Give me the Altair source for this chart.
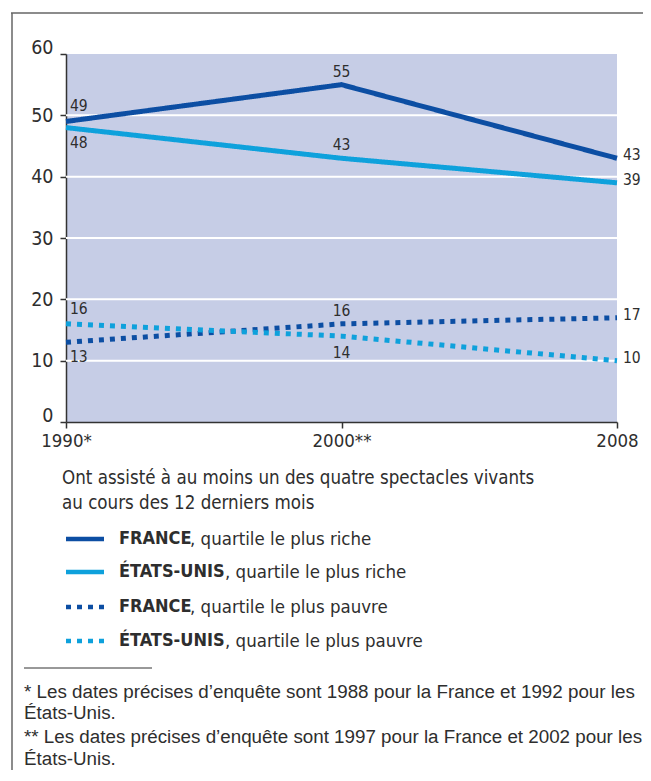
import altair as alt
import pandas as pd

# ---------------- data ----------------
years = ["1990*", "2000**", "2008"]
series = ["FRANCE riche", "ÉTATS-UNIS riche", "FRANCE pauvre", "ÉTATS-UNIS pauvre"]
france_riche = [49, 55, 43]
us_riche = [48, 43, 39]
france_pauvre = [13, 16, 17]
us_pauvre = [16, 14, 10]
y_ticks = [0, 10, 20, 30, 40, 50, 60]
grid_values = [10, 20, 30, 40, 50]

legend_title = ["Ont assisté à au moins un des quatre spectacles vivants",
                "au cours des 12 derniers mois"]
legend_bold = ["FRANCE", "ÉTATS-UNIS", "FRANCE", "ÉTATS-UNIS"]
legend_rest = [", quartile le plus riche", ", quartile le plus riche",
               ", quartile le plus pauvre", ", quartile le plus pauvre"]
footnotes = ["* Les dates précises d’enquête sont 1988 pour la France et 1992 pour les",
             "États-Unis.",
             "** Les dates précises d’enquête sont 1997 pour la France et 2002 pour les",
             "États-Unis."]

# ---------------- styles / layout ----------------
COND = "DejaVu Sans Condensed, Liberation Sans Narrow, sans-serif"
REG = "Liberation Sans, Arial, Helvetica, sans-serif"
TXT = "#2e2e2e"
colors = ["#0c4ea3", "#0ea1dc", "#0c4ea3", "#0ea1dc"]
dashes = [[1, 0], [1, 0], [5, 6], [5, 6]]
W, H = 551, 368

place = {
    "FRANCE riche": ["first_above", "mid_above", "last"],
    "ÉTATS-UNIS riche": ["first_below", "mid_above", "last"],
    "FRANCE pauvre": ["first_below", "mid_above", "last"],
    "ÉTATS-UNIS pauvre": ["first_above", "mid_below", "last"],
}
label_style = {
    "first_above": dict(align="left", dx=4, dy=-15),
    "first_below": dict(align="left", dx=4, dy=15),
    "mid_above": dict(align="center", dx=0, dy=-13),
    "mid_below": dict(align="center", dx=0, dy=17),
    "last": dict(align="left", dx=6, dy=-3),
}

rows = []
for s, vals in zip(series, [france_riche, us_riche, france_pauvre, us_pauvre]):
    for i, (yr, v) in enumerate(zip(years, vals)):
        rows.append({"year": yr, "value": v, "series": s, "label": str(v),
                     "pos": place[s][i]})
df = pd.DataFrame(rows)

color_scale = alt.Scale(domain=series, range=colors)
dash_scale = alt.Scale(domain=series, range=dashes)
x_scale = alt.Scale(type="point", domain=years, padding=0)
y_scale = alt.Scale(domain=[0, 60], nice=False)

grid = alt.Chart(pd.DataFrame({"g": grid_values})).mark_rule(
    color="white", strokeWidth=2).encode(y=alt.Y("g:Q", scale=y_scale))

lines = alt.Chart(df).mark_line(strokeWidth=5, strokeCap="butt").encode(
    x=alt.X("year:N", scale=x_scale, sort=years,
            axis=alt.Axis(title=None, labelAngle=0, labelFont=COND, labelFontSize=18.5,
                          labelColor=TXT, tickSize=6, tickColor="#333", tickWidth=1.5,
                          domainColor="#333", domainWidth=1.5, labelPadding=3, grid=False)),
    y=alt.Y("value:Q", scale=y_scale,
            axis=alt.Axis(title=None, values=y_ticks, labelFont=COND, labelFontSize=19.5,
                          labelColor=TXT, tickSize=6, tickColor="#333", tickWidth=1.5,
                          domainColor="#333", domainWidth=1.5, labelPadding=7, grid=False,
                          labelOffset={"condition": {"test": "datum.value === 0 || datum.value === 60",
                                                     "value": -7}, "value": 0})),
    color=alt.Color("series:N", scale=color_scale, legend=None),
    strokeDash=alt.StrokeDash("series:N", scale=dash_scale, legend=None),
)

label_layers = []
for pos, st in label_style.items():
    label_layers.append(
        alt.Chart(df).transform_filter(alt.datum.pos == pos).mark_text(
            font=COND, fontSize=15.5, color=TXT, baseline="middle", **st).encode(
            x=alt.X("year:N", scale=x_scale, sort=years),
            y=alt.Y("value:Q", scale=y_scale),
            text="label:N"))

# custom legend
extra = []
title_y = [424, 449]
for t, ty in zip(legend_title, title_y):
    extra.append(alt.Chart(pd.DataFrame({"t": [t]})).mark_text(
        font=COND, fontSize=18.6, color=TXT, align="left", baseline="middle").encode(
        x=alt.value(-4), y=alt.value(ty), text="t:N"))

row_y = [485, 518, 553, 587]
rest_x = [124, 159, 124, 159]
for s, b, r, ly, rx in zip(series, legend_bold, legend_rest, row_y, rest_x):
    ldf = pd.DataFrame({"series": [s], "b": [b], "r": [r]})
    extra.append(alt.Chart(ldf).mark_rule(strokeWidth=4.5, strokeCap="butt").encode(
        x=alt.value(0), x2=alt.value(38), y=alt.value(ly),
        color=alt.Color("series:N", scale=color_scale, legend=None),
        strokeDash=alt.StrokeDash("series:N", scale=dash_scale, legend=None)))
    extra.append(alt.Chart(ldf).mark_text(
        font=COND, fontSize=18, fontWeight="bold", color=TXT, align="left",
        baseline="middle").encode(x=alt.value(53), y=alt.value(ly), text="b:N"))
    extra.append(alt.Chart(ldf).mark_text(
        font=COND, fontSize=18.5, color=TXT, align="left",
        baseline="middle").encode(x=alt.value(rx), y=alt.value(ly), text="r:N"))

# footnote separator and footnotes
extra.append(alt.Chart(pd.DataFrame({"a": [0]})).mark_rule(color="#333", strokeWidth=1).encode(
    x=alt.value(-42), x2=alt.value(86), y=alt.value(614)))
foot_y = [638, 659, 683, 705]
for t, fy in zip(footnotes, foot_y):
    extra.append(alt.Chart(pd.DataFrame({"t": [t]})).mark_text(
        font=REG, fontSize=18.8, color=TXT, align="left", baseline="middle").encode(
        x=alt.value(-42), y=alt.value(fy), text="t:N"))

# frame
extra.append(alt.Chart(pd.DataFrame({"a": [0]})).mark_rule(color="#666", strokeWidth=1.5).encode(
    x=alt.value(-54), y=alt.value(-41), y2=alt.value(740)))
extra.append(alt.Chart(pd.DataFrame({"a": [0]})).mark_rule(color="#666", strokeWidth=1.5).encode(
    x=alt.value(-55), x2=alt.value(600), y=alt.value(-41)))

chart = alt.layer(grid, lines, *label_layers, *extra).properties(
    width=W, height=H,
    autosize=alt.AutoSizeParams(type="none"),
    padding={"left": 58, "top": 46, "right": 26, "bottom": 348},
).configure_view(fill="#c6cde6", stroke=None)

chart.save("out.html", embed_options={"renderer": "svg", "actions": False})
